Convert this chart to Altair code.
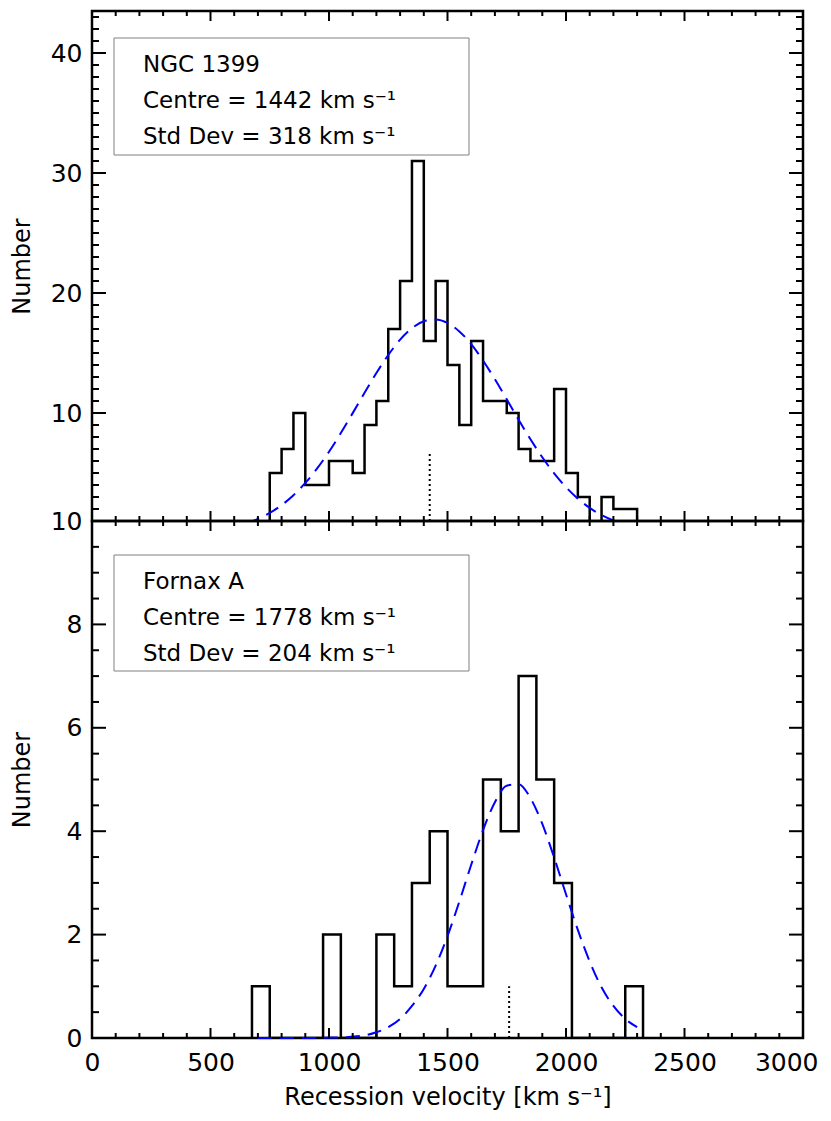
import altair as alt
import pandas as pd

FONT = "DejaVu Sans"

# ---------------- NGC 1399 (top panel) ----------------
ngc_bin_left = [750, 800, 850, 900, 950, 1000, 1050, 1100, 1150, 1200, 1250,
                1300, 1350, 1400, 1450, 1500, 1550, 1600, 1650, 1700, 1750,
                1800, 1850, 1900, 1950, 2000, 2050, 2100, 2150, 2200, 2250]
ngc_counts = [5, 7, 10, 4, 4, 6, 6, 5, 9, 11, 17,
              21, 31, 16, 21, 14, 9, 16, 11, 11, 10,
              7, 6, 6, 12, 5, 3, 0, 3, 2, 2]
ngc_bin_width = 50

ngc_fit_v = [650, 700, 750, 800, 850, 900, 950, 1000, 1050, 1100, 1150, 1200,
             1250, 1300, 1350, 1400, 1450, 1500, 1550, 1600, 1650, 1700, 1750,
             1800, 1850, 1900, 1950, 2000, 2050, 2100, 2150, 2200, 2250]
ngc_fit_n = [0.80, 1.17, 1.67, 2.32, 3.15, 4.17, 5.38, 6.77, 8.33, 9.99, 11.68,
             13.33, 14.83, 16.11, 17.07, 17.65, 17.80, 17.51, 16.80, 15.74,
             14.37, 12.81, 11.14, 9.44, 7.82, 6.31, 4.97, 3.82, 2.86, 2.09,
             1.49, 1.04, 0.70]
ngc_marker_v = [1425]
ngc_marker_top = [6.7]

ngc_text = ["NGC 1399", "Centre = 1442 km s\u207b\u00b9", "Std Dev = 318 km s\u207b\u00b9"]

# ---------------- Fornax A (bottom panel) ----------------
fnx_bin_left = [675, 750, 825, 900, 975, 1050, 1125, 1200, 1275, 1350, 1425,
                1500, 1575, 1650, 1725, 1800, 1875, 1950, 2025, 2100, 2175, 2250]
fnx_counts = [1, 0, 0, 0, 2, 0, 0, 2, 1, 3, 4,
              1, 1, 5, 4, 7, 5, 3, 0, 0, 0, 1]
fnx_bin_width = 75

fnx_fit_v = [700, 750, 800, 850, 900, 950, 1000, 1050, 1100, 1150, 1200, 1250,
             1300, 1350, 1400, 1450, 1500, 1550, 1600, 1650, 1700, 1750, 1800,
             1850, 1900, 1950, 2000, 2050, 2100, 2150, 2200, 2250, 2300]
fnx_fit_n = [0.0, 0.0, 0.0, 0.0, 0.0, 0.0, 0.01, 0.01, 0.03, 0.05, 0.11, 0.21,
             0.37, 0.62, 0.95, 1.40, 1.97, 2.64, 3.35, 4.02, 4.56, 4.88, 4.91,
             4.64, 4.14, 3.49, 2.78, 2.09, 1.48, 0.98, 0.62, 0.37, 0.21]
fnx_marker_v = [1760]
fnx_marker_top = [1.0]

fnx_text = ["Fornax A", "Centre = 1778 km s\u207b\u00b9", "Std Dev = 204 km s\u207b\u00b9"]

# ---------------- axes / ticks ----------------
x_labels = [0, 500, 1000, 1500, 2000, 2500, 3000]
x_major = [500, 1000, 1500, 2000, 2500]
x_minor = [v for v in range(100, 3000, 100) if v % 500 != 0]

ngc_y_labels = [10, 20, 30, 40]
ngc_y_major = [10, 20, 30, 40]
ngc_y_minor = [v for v in range(2, 44) if v % 10 != 0]

fnx_y_labels = [0, 2, 4, 6, 8, 10]
fnx_y_major = [2, 4, 6, 8]
fnx_y_minor = [v / 2 for v in range(1, 20) if v % 4 != 0]

W = 711


def step_frame(lefts, counts, width):
    v = [lefts[0]] + list(lefts) + [lefts[-1] + width]
    n = [0] + list(counts) + [0]
    return pd.DataFrame({"v": v, "n": n, "i": list(range(len(v)))})


def panel(H, y_domain, hist_df, fit_df, mk_v, mk_top, lines, box_y, text_y,
          y_labels, y_major, y_minor, show_x):
    xs = alt.Scale(domain=[0, 3000], nice=False, zero=False)
    ys = alt.Scale(domain=y_domain, nice=False, zero=False)
    need_clip = y_domain[0] > 0
    if show_x:
        x_axis = alt.Axis(
            values=x_labels, format="d", labelFontSize=25,
            labelFont=FONT, labelColor="black", labelPadding=12,
            labelFlush=False,
            labelAlign={"condition": {"test": "datum.value == 3000", "value": "right"},
                        "value": "center"},
            labelOffset={"condition": {"test": "datum.value == 3000", "value": 15},
                         "value": 0},
            ticks=False, tickSize=0, domain=False, grid=False,
            title="Recession velocity [km s\u207b\u00b9]",
            titleFont=FONT, titleFontSize=24,
            titleFontWeight="normal", titleColor="black",
            titlePadding=10)
    else:
        x_axis = None
    y_axis = alt.Axis(values=y_labels, format="d", labelFontSize=25,
                      labelFont=FONT, labelColor="black", labelPadding=10,
                      labelFlush=False,
                      ticks=False, tickSize=0, domain=False, grid=False,
                      title="Number", titleFont=FONT, titleFontSize=24,
                      titleFontWeight="normal", titleColor="black",
                      titleX=-70, titleY=H / 2, titleAngle=270,
                      titleBaseline="middle", titleAlign="center")

    hist = alt.Chart(hist_df).mark_line(
        interpolate="step-after", color="black", strokeWidth=2.5, clip=True
    ).encode(
        x=alt.X("v:Q", scale=xs, axis=x_axis),
        y=alt.Y("n:Q", scale=ys, axis=y_axis),
        order="i:Q",
    )
    fit = alt.Chart(fit_df).mark_line(
        color="#0000ff", strokeWidth=2, strokeDash=[14, 8],
        interpolate="monotone", clip=need_clip
    ).encode(x=alt.X("v:Q", scale=xs), y=alt.Y("n:Q", scale=ys))

    mk_df = pd.DataFrame({"v": mk_v, "n": [y_domain[0]] * len(mk_v), "n2": mk_top})
    marker = alt.Chart(mk_df).mark_rule(
        color="black", strokeWidth=2, strokeDash=[2, 3]
    ).encode(x=alt.X("v:Q", scale=xs), y=alt.Y("n:Q", scale=ys), y2="n2:Q")

    layers = [hist, fit, marker]

    # x ticks (inward, bottom and top)
    for vals, ln in ((x_major, 10), (x_minor, 5)):
        d = pd.DataFrame({"v": vals})
        layers.append(alt.Chart(d).mark_rule(color="black", strokeWidth=2).encode(
            x=alt.X("v:Q", scale=xs), y=alt.value(H), y2=alt.value(H - ln)))
        layers.append(alt.Chart(d).mark_rule(color="black", strokeWidth=2).encode(
            x=alt.X("v:Q", scale=xs), y=alt.value(0), y2=alt.value(ln)))
    # y ticks (inward, left and right)
    for vals, ln in ((y_major, 14), (y_minor, 7)):
        d = pd.DataFrame({"n": vals})
        layers.append(alt.Chart(d).mark_rule(color="black", strokeWidth=2).encode(
            y=alt.Y("n:Q", scale=ys), x=alt.value(0), x2=alt.value(ln)))
        layers.append(alt.Chart(d).mark_rule(color="black", strokeWidth=2).encode(
            y=alt.Y("n:Q", scale=ys), x=alt.value(W), x2=alt.value(W - ln)))

    # legend box
    box = alt.Chart(pd.DataFrame({"k": [0]})).mark_rect(
        fillOpacity=0, stroke="#808080", strokeWidth=1
    ).encode(x=alt.value(22), x2=alt.value(377),
             y=alt.value(box_y[0]), y2=alt.value(box_y[1]))
    layers.append(box)
    for line, ty in zip(lines, text_y):
        layers.append(alt.Chart(pd.DataFrame({"t": [line]})).mark_text(
            align="left", baseline="middle", fontSize=23, font=FONT, color="black"
        ).encode(x=alt.value(51), y=alt.value(ty), text="t:N"))

    return alt.layer(*layers).properties(width=W, height=H)


top = panel(510, [1, 43.5], step_frame(ngc_bin_left, ngc_counts, ngc_bin_width),
            pd.DataFrame({"v": ngc_fit_v, "n": ngc_fit_n}),
            ngc_marker_v, ngc_marker_top, ngc_text, (27, 144), (54, 90, 126),
            ngc_y_labels, ngc_y_major, ngc_y_minor, False)
bottom = panel(517, [0, 10], step_frame(fnx_bin_left, fnx_counts, fnx_bin_width),
               pd.DataFrame({"v": fnx_fit_v, "n": fnx_fit_n}),
               fnx_marker_v, fnx_marker_top, fnx_text, (34, 150), (61, 97, 133),
               fnx_y_labels, fnx_y_major, fnx_y_minor, True)

chart = alt.vconcat(top, bottom, spacing=0, bounds="flush").properties(
    padding=0
).configure_view(stroke="black", strokeWidth=2.5).configure_axis(grid=False)

chart.save("out.html", embed_options={"renderer": "svg", "actions": False})
